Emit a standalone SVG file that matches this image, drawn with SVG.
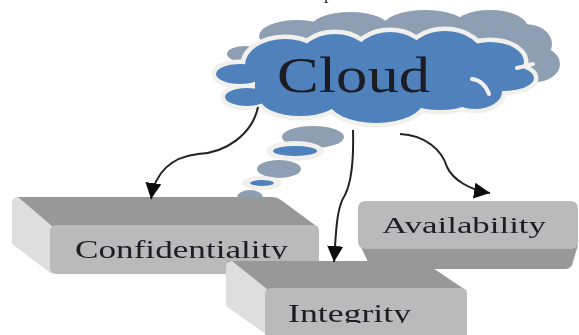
<svg xmlns="http://www.w3.org/2000/svg" width="579" height="335" viewBox="0 0 579 335">
<style>
.t{font-family:"Liberation Serif","Times New Roman",serif;fill:#1d1a24}
.top{fill:#989898}.side{fill:#dedede}.front{fill:#bababa}
.c{fill:none;stroke:#222;stroke-width:2}
.g{fill:#8f9fb3}.b{fill:#4f81bd}.h{fill:#f2f0ec}
</style>
<defs>
<filter id="s" x="-5%" y="-5%" width="110%" height="110%"><feGaussianBlur stdDeviation="0.6"/></filter>
<marker id="a" markerUnits="userSpaceOnUse" markerWidth="18" markerHeight="16" refX="16" refY="8" orient="auto"><path d="M0 0L16 8L0 16Z" fill="#111"/></marker>
<g id="cl">
<ellipse cx="240" cy="74" rx="24" ry="10"/><ellipse cx="247" cy="97" rx="22" ry="9"/>
<ellipse cx="285" cy="65" rx="40" ry="26"/><ellipse cx="335" cy="60" rx="36" ry="26"/>
<ellipse cx="390" cy="58" rx="36" ry="26"/><ellipse cx="445" cy="58" rx="38" ry="27"/>
<ellipse cx="490" cy="62" rx="34" ry="20"/><ellipse cx="503" cy="78" rx="31" ry="13"/>
<ellipse cx="475" cy="92" rx="27" ry="17"/><ellipse cx="300" cy="98" rx="40" ry="18"/>
<ellipse cx="376" cy="100" rx="48" ry="23"/><ellipse cx="440" cy="92" rx="40" ry="18"/>
<rect x="255" y="60" width="225" height="40"/>
</g>
<clipPath id="k1"><rect x="50" y="225" width="269" height="34"/></clipPath>
<clipPath id="k2"><rect x="265" y="288" width="202" height="35"/></clipPath>
</defs>
<g filter="url(#s)">
<text class="t" x="324" y="-1" font-size="18">p</text>
<g id="cloud">
<g class="g">
<ellipse cx="297" cy="36" rx="38" ry="16"/><ellipse cx="350" cy="28" rx="40" ry="16"/>
<ellipse cx="425" cy="26" rx="42" ry="16"/><ellipse cx="490" cy="28" rx="38" ry="18"/>
<ellipse cx="525" cy="44" rx="27" ry="20"/><ellipse cx="535" cy="64" rx="25" ry="18"/>
<ellipse cx="245" cy="54" rx="18" ry="8"/>
</g>
<use href="#cl" class="h" stroke="#f2f0ec" stroke-width="9"/>
<use href="#cl" class="b"/>
<path d="M472 79C480 80 486 86 489 94M517 68L533 64" fill="none" stroke="#f2f0ec" stroke-width="4" stroke-linecap="round"/>
<text class="t" x="277" y="92" font-size="50" textLength="153" lengthAdjust="spacingAndGlyphs">Cloud</text>
</g>
<g id="bubbles">
<ellipse class="g" cx="313" cy="137" rx="31" ry="11"/>
<ellipse class="h" cx="295" cy="151" rx="29" ry="10"/><ellipse class="b" cx="295" cy="151" rx="22" ry="5"/>
<ellipse class="g" cx="279" cy="169" rx="22" ry="9"/>
<ellipse class="h" cx="262" cy="183" rx="20" ry="7"/><ellipse class="b" cx="262" cy="183" rx="12" ry="3"/>
<ellipse class="g" cx="250" cy="198" rx="13" ry="8"/>
</g>
<g id="availability">
<path class="top" d="M360 245L578 245L572 265Q570 269 565 269L377 269Q372 269 369 264Z"/>
<rect class="front" x="358" y="201" width="220" height="48" rx="7"/>
<text class="t" x="382" y="233" font-size="24" textLength="164" lengthAdjust="spacingAndGlyphs">Availability</text>
</g>
<g id="confidentiality">
<path class="top" d="M18 197L272 197Q277 197 281 200L319 228L50 228L14 204Q14 197 18 197Z"/>
<path class="side" d="M12 204Q12 197 18 197L52 226L52 274L12 244Z"/>
<rect class="front" x="50" y="225" width="269" height="49" rx="6"/>
<text class="t" x="75" y="258" font-size="25" textLength="213" lengthAdjust="spacingAndGlyphs" clip-path="url(#k1)">Confidentiality</text>
</g>
<g id="integrity">
<path class="top" d="M228 261L418 261Q423 261 427 264L467 291L265 291L228 266Z"/>
<path class="side" d="M226 268Q226 261 232 261L267 289L267 335L226 306Z"/>
<path class="front" d="M265 294Q265 288 271 288L461 288Q467 288 467 294L467 335L265 335Z"/>
<text class="t" x="288" y="322" font-size="25" textLength="123" lengthAdjust="spacingAndGlyphs" clip-path="url(#k2)">Integrity</text>
</g>
<g id="connectors">
<path class="c" marker-end="url(#a)" d="M258 107C252 135 225 153 198 154C172 157 155 172 151 199"/>
<path class="c" marker-end="url(#a)" d="M353 130C354 165 350 185 345 195C336 208 336 235 334 262"/>
<path class="c" marker-end="url(#a)" d="M400 134C425 135 442 150 447 167C453 180 470 190 490 193"/>
</g>
</g>
</svg>
